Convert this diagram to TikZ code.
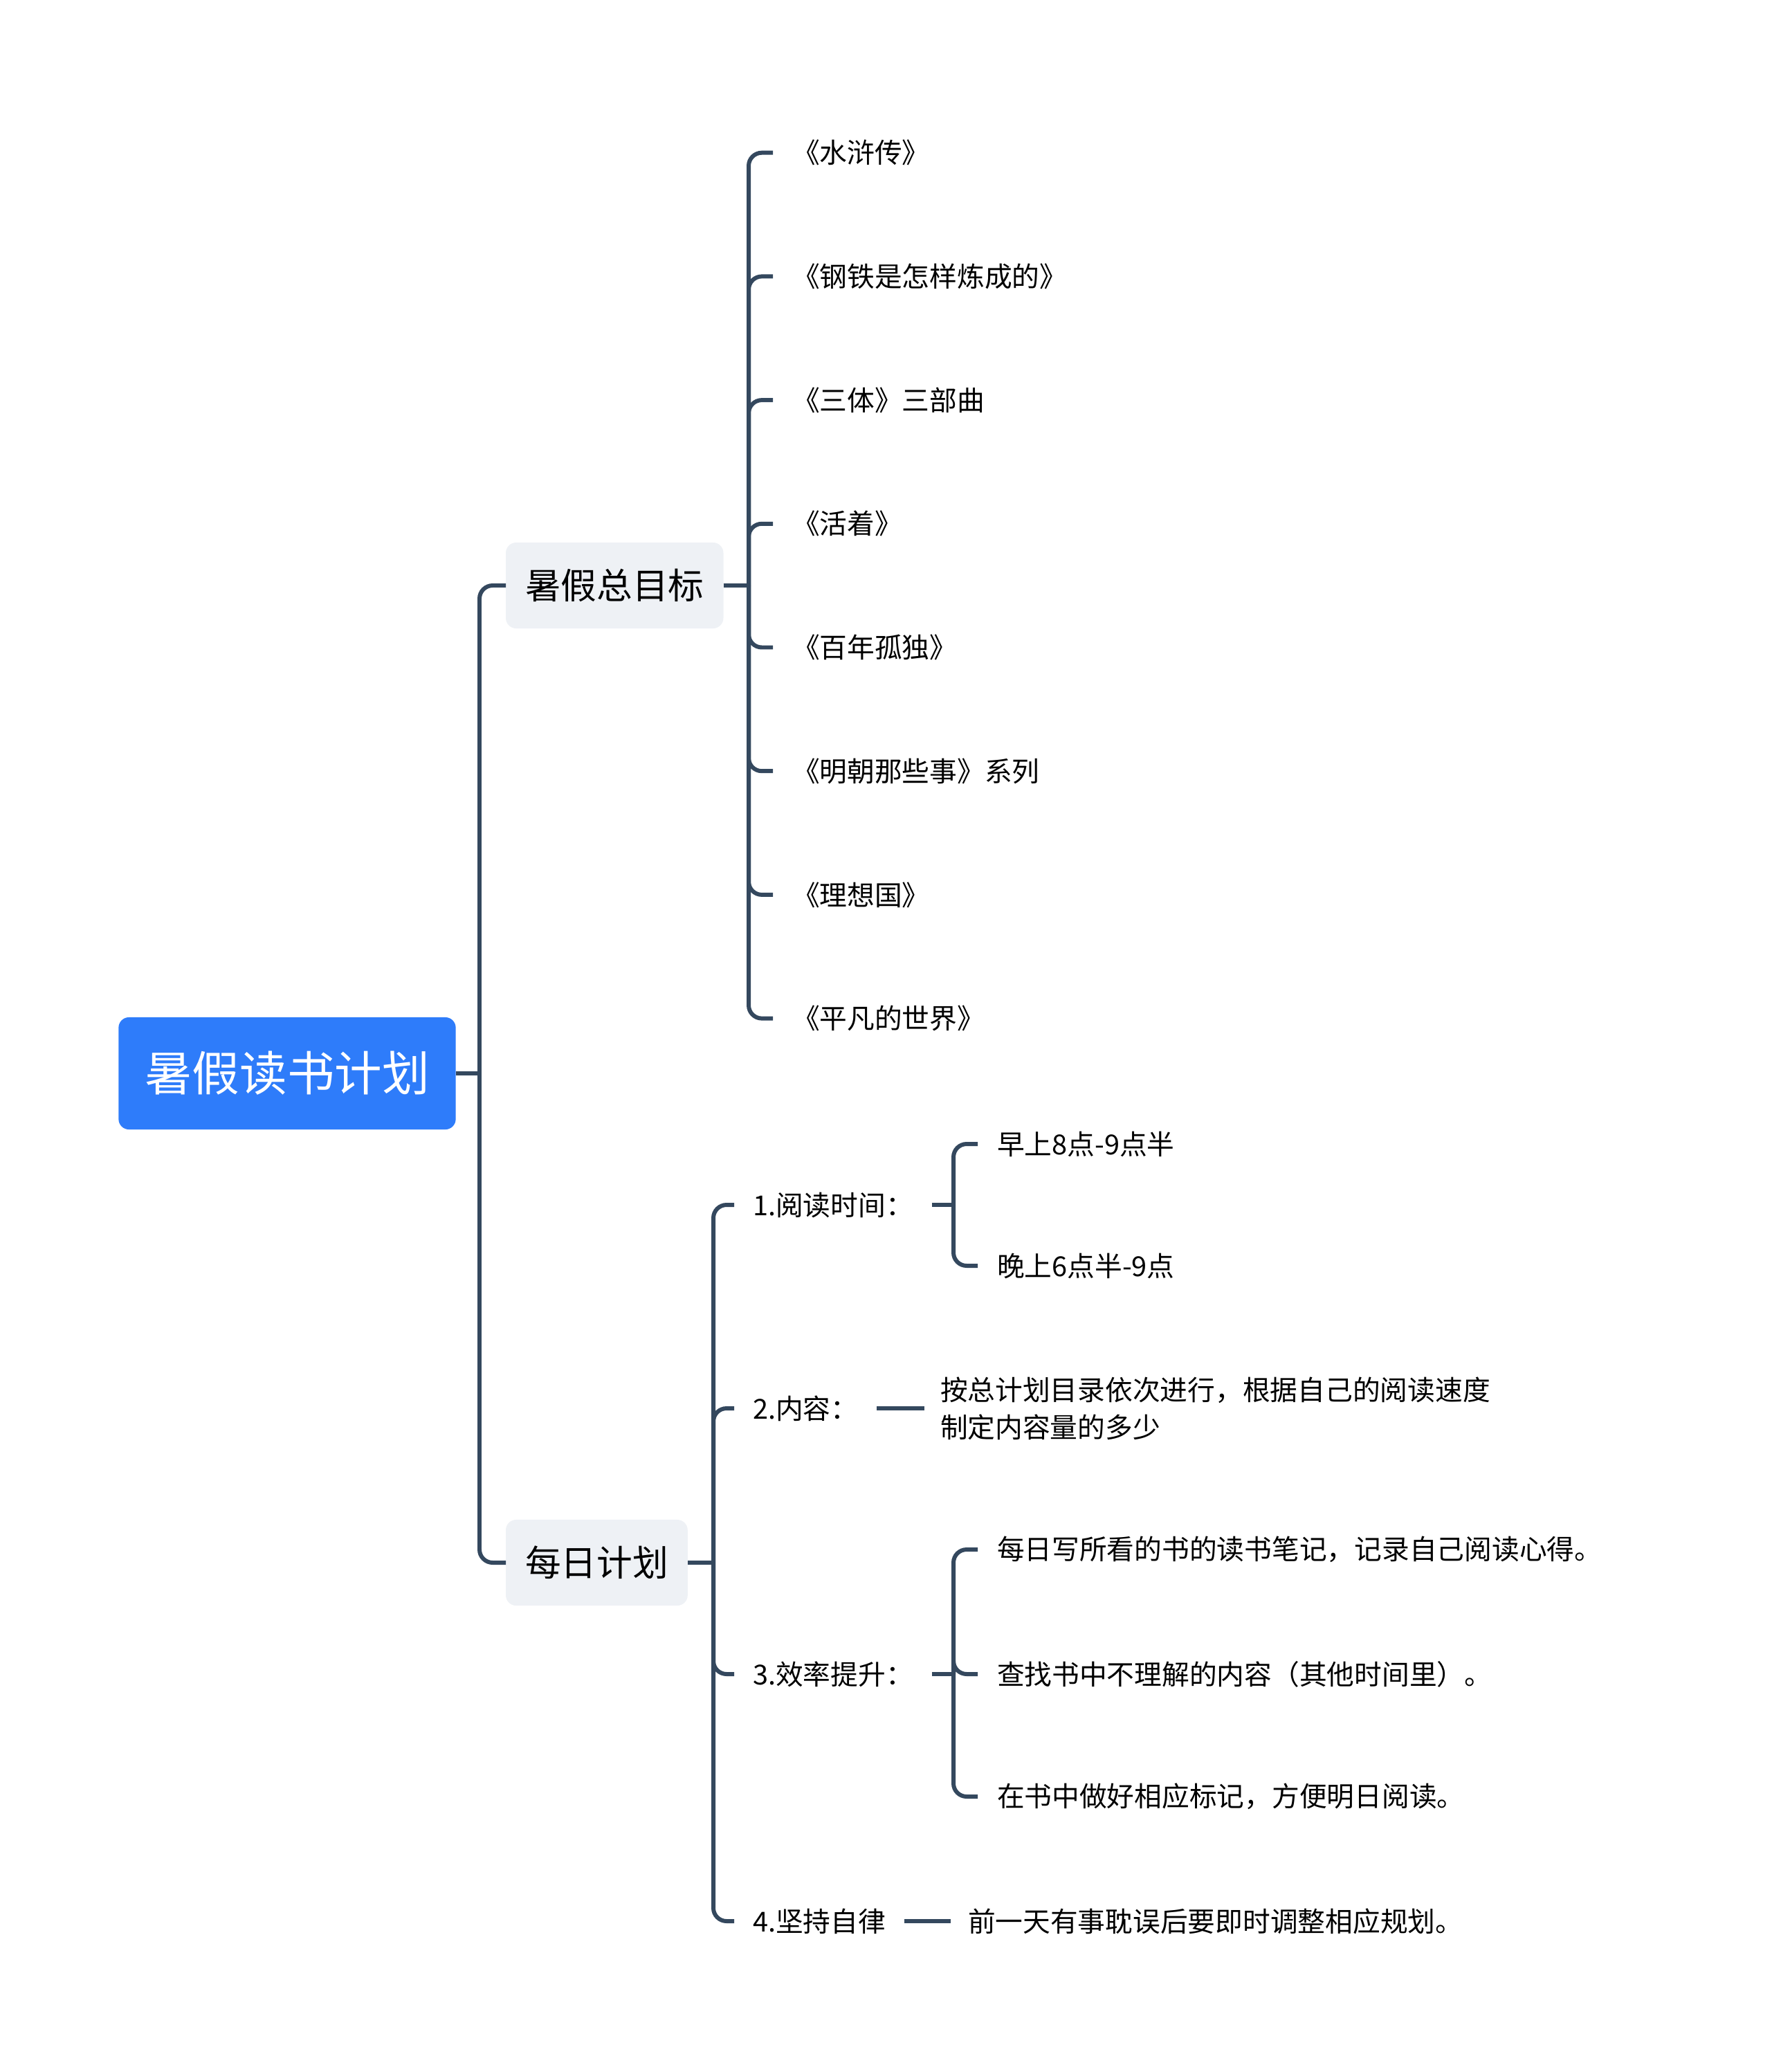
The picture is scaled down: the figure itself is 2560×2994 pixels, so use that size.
\documentclass[tikz,border=0pt]{standalone}
\usepackage{fontspec}
\setmainfont{Noto Sans CJK SC}
\usepackage{tikz}
\usetikzlibrary{calc}

\definecolor{rootc}{RGB}{46,124,250}
\definecolor{topicc}{RGB}{238,241,245}
\definecolor{linec}{RGB}{52,72,94}

\tikzset{
  link/.style={line width=1.7pt, draw=linec, rounded corners=0.19cm},
  rootbox/.style={fill=rootc, text=white, rounded corners=0.15cm, outer sep=0pt,
    minimum width=4.87cm, minimum height=1.62cm, font=\fontsize{19.5}{22}\selectfont},
  topicbox/.style={fill=topicc, rounded corners=0.15cm, outer sep=0pt, inner xsep=0.28cm,
    minimum height=1.24cm, font=\fontsize{14.7}{17}\selectfont},
  leaf/.style={anchor=west, outer sep=0pt, inner xsep=0.28cm,
    font=\fontsize{11.3}{15.4}\selectfont}
}

\begin{document}
\begin{tikzpicture}[x=0.01cm, y=-0.01cm]
  \useasboundingbox (0,0) rectangle (2560,2994);

  % root and the two topics
  \node[rootbox] (root) at (415,1551) {暑假读书计划};
  \node[topicbox, anchor=west] (goal) at (731,846) {暑假总目标};
  \node[topicbox, anchor=west] (daily) at (731,2258) {每日计划};

  \coordinate (rj) at (693,1551);
  \draw[link] (root.east) -- (rj);
  \draw[link] (rj) |- (goal.west);
  \draw[link] (rj) |- (daily.west);

  % book list
  \coordinate (gj) at (1082,846);
  \draw[link] (goal.east) -- (gj);
  \foreach \t [count=\i] in {《水浒传》, 《钢铁是怎样炼成的》, 《三体》三部曲, 《活着》,
      《百年孤独》, 《明朝那些事》系列, 《理想国》, 《平凡的世界》} {
    \node[leaf] (b\i) at (1117,{42+178.7*\i}) {\t};
    \draw[link] (gj) |- (b\i.west);
  }

  % daily plan
  \coordinate (dj) at (1031,2258);
  \draw[link] (daily.east) -- (dj);
  \node[leaf, inner xsep=0.27cm] (d1) at (1061,1741) {1.阅读时间：};
  \node[leaf, inner xsep=0.27cm] (d2) at (1061,2035) {2.内容：};
  \node[leaf, inner xsep=0.27cm] (d3) at (1061,2419) {3.效率提升：};
  \node[leaf, inner xsep=0.27cm] (d4) at (1061,2776) {4.坚持自律};
  \foreach \n in {d1,d2,d3,d4}
    \draw[link] (dj) |- (\n.west);

  % 1. reading time
  \coordinate (j1) at (1378,1741);
  \draw[link] (d1.east) -- (j1);
  \node[leaf] (t1) at (1413,1653) {早上8点-9点半};
  \node[leaf] (t2) at (1413,1829) {晚上6点半-9点};
  \draw[link] (j1) |- (t1.west);
  \draw[link] (j1) |- (t2.west);

  % 2. content
  \node[leaf, inner xsep=0.23cm, align=left] (c1) at (1336,2035)
    {按总计划目录依次进行，根据自己的阅读速度\\制定内容量的多少};
  \draw[link] (d2.east) -- (c1.west);

  % 3. efficiency
  \coordinate (j3) at (1378,2419);
  \draw[link] (d3.east) -- (j3);
  \node[leaf] (e1) at (1413,2239) {每日写所看的书的读书笔记，记录自己阅读心得。};
  \node[leaf] (e2) at (1413,2419) {查找书中不理解的内容（其他时间里）。};
  \node[leaf] (e3) at (1413,2596) {在书中做好相应标记，方便明日阅读。};
  \foreach \n in {e1,e2,e3}
    \draw[link] (j3) |- (\n.west);

  % 4. self-discipline
  \node[leaf, inner xsep=0.25cm] (s1) at (1374,2776) {前一天有事耽误后要即时调整相应规划。};
  \draw[link] (d4.east) -- (s1.west);
\end{tikzpicture}
\end{document}
